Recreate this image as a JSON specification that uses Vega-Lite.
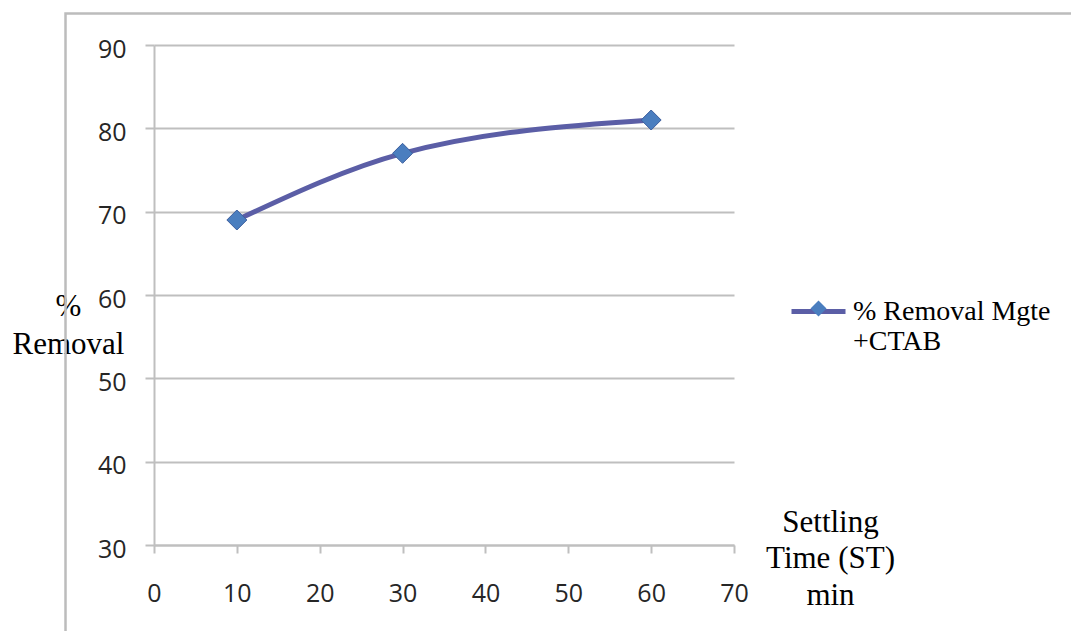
{
  "$schema": "https://vega.github.io/schema/vega-lite/v6.json",
  "width": 580,
  "height": 500,
  "autosize": {"type": "none"},
  "padding": {"left": 154, "top": 45, "right": 337, "bottom": 86},
  "background": "white",
  "config": {
    "view": {"stroke": null},
    "axis": {
      "domainColor": "#bfbfbf",
      "domainWidth": 2,
      "tickColor": "#bfbfbf",
      "tickWidth": 2,
      "labelFont": "Open Sans",
      "labelFontSize": 25,
      "labelColor": "#262626",
      "labelOverlap": false,
      "labelFlush": false,
      "titleFont": "Liberation Serif",
      "titleFontSize": 31,
      "titleFontWeight": "normal",
      "titleColor": "black",
      "titleAlign": "center",
      "titleBaseline": "alphabetic"
    },
    "legend": {
      "padding": 0,
      "title": null
    }
  },
  "data": {
    "values": [
      {"time": 10, "removal": 69, "series": "% Removal Mgte +CTAB"},
      {"time": 30, "removal": 77, "series": "% Removal Mgte +CTAB"},
      {"time": 60, "removal": 81, "series": "% Removal Mgte +CTAB"}
    ]
  },
  "layer": [
    {
      "data": {"values": [{"frame": "chart area"}]},
      "mark": {"type": "rect", "fill": null, "stroke": "#bcbcbc", "strokeWidth": 2.5, "clip": false},
      "encoding": {
        "x": {"datum": -10.68, "type": "quantitative", "scale": {"domain": [0, 70]}},
        "x2": {"datum": 120},
        "y": {"datum": 93.78, "type": "quantitative", "scale": {"domain": [30, 90]}},
        "y2": {"datum": 0}
      }
    },
    {
      "mark": {"type": "line", "interpolate": "monotone", "strokeWidth": 5, "strokeCap": "round"},
      "encoding": {
        "x": {
          "field": "time",
          "type": "quantitative",
          "scale": {"domain": [0, 70]},
          "axis": {
            "values": [0, 10, 20, 30, 40, 50, 60, 70],
            "grid": false,
            "tickSize": 8,
            "labelPadding": 28,
            "title": ["Settling", "Time (ST)", "min"],
            "titleLineHeight": 36.5,
            "titleX": 676,
            "titleY": -14
          }
        },
        "y": {
          "field": "removal",
          "type": "quantitative",
          "scale": {"domain": [30, 90]},
          "axis": {
            "values": [30, 40, 50, 60, 70, 80, 90],
            "grid": true,
            "gridColor": "#bfbfbf",
            "gridWidth": 2,
            "tickSize": 9,
            "labelPadding": 19,
            "labelOffset": 4,
            "title": ["%", "Removal"],
            "titleAngle": 0,
            "titleLineHeight": 38,
            "titleX": -86,
            "titleY": 270
          }
        },
        "stroke": {
          "field": "series",
          "type": "nominal",
          "scale": {"range": ["#5b5ea6"]},
          "legend": {
            "orient": "none",
            "legendX": 635,
            "legendY": 237,
            "symbolType": "stroke",
            "symbolSize": 2916,
            "symbolStrokeWidth": 5,
            "symbolStrokeColor": "#5b5ea6",
            "labelOffset": 5,
            "labelFont": "Liberation Serif",
            "labelFontSize": 28,
            "labelColor": "black",
            "labelLineHeight": 35,
            "labelLimit": 400,
            "labelExpr": "[slice(datum.label, 0, 14), slice(datum.label, 15)]"
          }
        }
      }
    },
    {
      "mark": {"type": "point", "filled": true, "fill": "#4a7ebf", "stroke": "#3d5f9e", "strokeWidth": 1, "size": 400, "opacity": 1},
      "encoding": {
        "x": {"field": "time", "type": "quantitative", "scale": {"domain": [0, 70]}},
        "y": {"field": "removal", "type": "quantitative", "scale": {"domain": [30, 90]}},
        "shape": {
          "field": "series",
          "type": "nominal",
          "scale": {"domain": ["% Removal Mgte +CTAB"], "range": ["diamond"]},
          "legend": {
            "orient": "none",
            "legendX": 656,
            "legendY": 255,
            "symbolSize": 256,
            "symbolFillColor": "#4a7ebf",
            "symbolStrokeColor": "#3d5f9e",
            "symbolStrokeWidth": 1,
            "symbolOpacity": 1,
            "labelExpr": "''"
          }
        }
      }
    }
  ]
}
